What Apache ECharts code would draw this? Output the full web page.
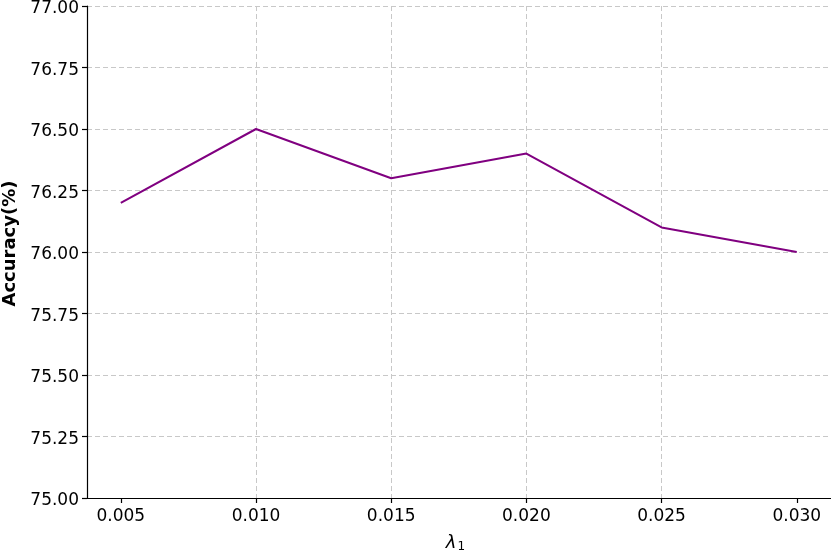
<!DOCTYPE html>
<html><head><meta charset="utf-8">
<script src="https://cdn.jsdelivr.net/npm/echarts@6/dist/echarts.min.js"></script>
<style>html,body{margin:0;padding:0;background:#fff;overflow:hidden}#c{width:845px;height:553px}</style>
</head><body><div id="c"></div>
<script>
const lambdaValues = [0.005, 0.010, 0.015, 0.020, 0.025, 0.030];
const accuracy = [76.2, 76.5, 76.3, 76.4, 76.1, 76.0];
const xTickLabels = ['0.005', '0.010', '0.015', '0.020', '0.025', '0.030'];
const yTicks = [75.0, 75.25, 75.5, 75.75, 76.0, 76.25, 76.5, 76.75, 77.0];

const chart = echarts.init(document.getElementById('c'), null, {renderer: 'canvas'});
const font = 'DejaVu Sans';
const gridLine = {color: '#c8c8c8', type: [5, 3], width: 1};
chart.setOption({
  animation: false,
  grid: {left: 87, top: 6, right: 12, bottom: 55, containLabel: false, outerBoundsMode: 'none'},
  xAxis: {
    type: 'value', min: 0.00375, max: 0.03134,
    name: '{l|λ}{s|1}', nameLocation: 'middle', nameGap: 35,
    nameTextStyle: {padding: [0, 9, 0, 0], rich: {
      l: {fontFamily: font, fontStyle: 'italic', fontSize: 18, color: '#000'},
      s: {fontFamily: font, fontSize: 12, color: '#000', verticalAlign: 'bottom', padding: [8,0,0,1]}
    }},
    axisLine: {show: true, onZero: false, lineStyle: {color: '#000', width: 1.2}},
    axisTick: {show: true, length: 5, customValues: lambdaValues, lineStyle: {color: '#000', width: 1.2}},
    axisLabel: {customValues: lambdaValues, fontFamily: font, fontSize: 17, color: '#000', margin: 10,
      formatter: v => { const i = lambdaValues.findIndex(x => Math.abs(x - v) < 1e-9); return i >= 0 ? xTickLabels[i] : ''; }},
    splitLine: {show: true, showMinLine: false, showMaxLine: false, lineStyle: gridLine}
  },
  yAxis: {
    type: 'value', min: 75, max: 77, interval: 0.25,
    name: 'Accuracy(%)', nameLocation: 'middle', nameGap: 68,
    nameTextStyle: {fontFamily: font, fontWeight: 'bold', fontSize: 18, color: '#000', padding: [0, 0, 0, 17]},
    axisLine: {show: true, lineStyle: {color: '#000', width: 1.2}},
    axisTick: {show: true, length: 5, lineStyle: {color: '#000', width: 1.2}},
    axisLabel: {fontFamily: font, fontSize: 17, color: '#000', margin: 8, verticalAlign: 'top', lineHeight: 6, formatter: v => v.toFixed(2)},
    splitLine: {show: true, lineStyle: gridLine}
  },
  series: [{
    type: 'line',
    data: lambdaValues.map((x, i) => [x, accuracy[i]]),
    symbol: 'none',
    lineStyle: {color: '#800080', width: 2},
    itemStyle: {color: '#800080'}
  }]
});
</script></body></html>
